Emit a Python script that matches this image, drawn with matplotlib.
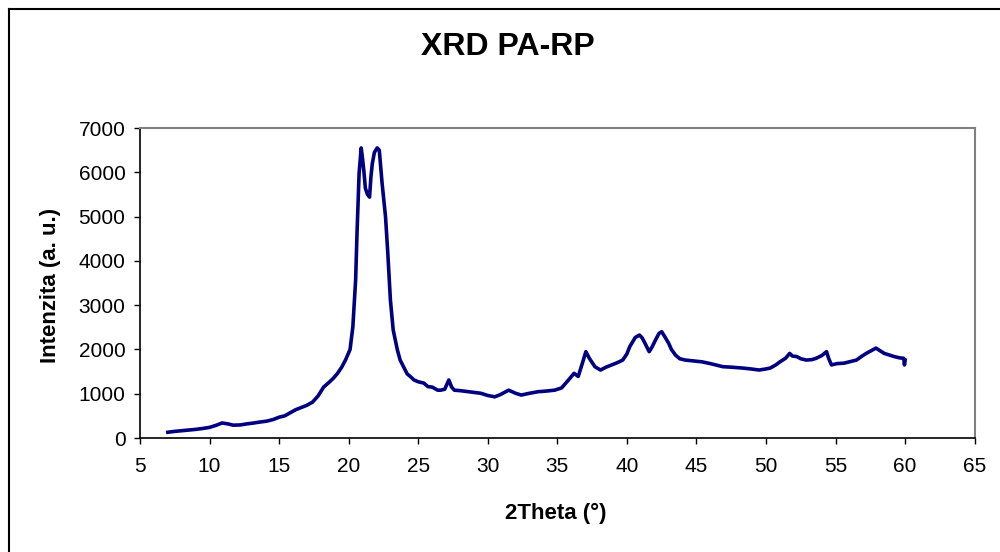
import numpy as np
import matplotlib
matplotlib.use('Agg')
from matplotlib import pyplot as plt
from matplotlib.lines import Line2D

# 2Theta (deg) and intensity (a. u.)
two_theta = [7.0, 7.5, 8.0, 8.5, 9.0, 9.5, 10.0, 10.5, 10.9, 11.3, 11.7, 12.2, 12.7, 13.2,
             13.6, 14.1, 14.6, 15.0, 15.4, 15.8, 16.2, 16.6, 17.0, 17.4, 17.8, 18.2, 18.6,
             18.9, 19.2, 19.5, 19.8, 20.1, 20.3, 20.5, 20.6, 20.7, 20.75, 20.9, 21.0, 21.1,
             21.2, 21.35, 21.5, 21.6, 21.7, 21.85, 22.05, 22.2, 22.4, 22.65, 22.8, 23.0,
             23.2, 23.5, 23.7, 23.96, 24.2, 24.46, 24.7, 25.0, 25.4, 25.7, 26.0, 26.4, 26.6,
             26.9, 27.2, 27.4, 27.6, 28.0, 28.6, 29.0, 29.5, 30.0, 30.5, 30.9, 31.5, 32.0,
             32.4, 33.0, 33.6, 34.2, 34.8, 35.3, 35.8, 36.2, 36.5, 36.8, 37.05, 37.3, 37.7,
             38.1, 38.5, 38.9, 39.3, 39.7, 40.0, 40.2, 40.6, 40.9, 41.1, 41.3, 41.6, 41.8,
             42.05, 42.3, 42.5, 42.7, 43.0, 43.2, 43.5, 43.8, 44.2, 44.8, 45.4, 46.0, 46.5,
             46.9, 47.5, 48.3, 48.9, 49.5, 50.0, 50.3, 50.7, 51.0, 51.4, 51.7, 51.9, 52.2,
             52.5, 52.9, 53.3, 53.6, 54.0, 54.35, 54.5, 54.7, 55.1, 55.6, 56.0, 56.5, 56.9,
             57.2, 57.6, 57.9, 58.2, 58.5, 58.8, 59.2, 59.6, 59.9, 59.95, 60.0]
intensity = [130, 150, 165, 180, 195, 215, 240, 290, 340, 320, 290, 295, 320, 340,
             360, 380, 420, 470, 500, 570, 640, 690, 740, 810, 950, 1150, 1260,
             1350, 1460, 1600, 1780, 2000, 2510, 3570, 4630, 5500, 5980, 6550, 6300, 6000,
             5640, 5500, 5440, 5900, 6200, 6450, 6550, 6500, 5760, 4990, 4240, 3116,
             2440, 1990, 1760, 1600, 1450, 1380, 1310, 1270, 1240, 1160, 1150, 1080, 1080,
             1100, 1310, 1150, 1080, 1070, 1045, 1030, 1010, 960, 930, 980, 1080, 1010,
             970, 1010, 1045, 1060, 1080, 1130, 1310, 1460, 1390, 1690, 1950, 1800, 1610,
             1535, 1600, 1650, 1700, 1760, 1900, 2060, 2270, 2325, 2260, 2140, 1950, 2050,
             2210, 2360, 2400, 2300, 2140, 2000, 1870, 1790, 1760, 1740, 1720, 1680, 1640,
             1610, 1600, 1580, 1560, 1535, 1560, 1580, 1650, 1720, 1800, 1910, 1850, 1840,
             1790, 1760, 1770, 1800, 1860, 1950, 1800, 1650, 1680, 1690, 1720, 1760, 1850,
             1910, 1980, 2030, 1970, 1910, 1880, 1840, 1810, 1800, 1650, 1760]

x_ticks = [5, 10, 15, 20, 25, 30, 35, 40, 45, 50, 55, 60, 65]
y_ticks = [0, 1000, 2000, 3000, 4000, 5000, 6000, 7000]

plt.rcParams['font.family'] = ['Liberation Sans', 'DejaVu Sans']

fig = plt.figure(figsize=(10, 5.52), dpi=100)
ax = fig.add_axes([0.140, 0.2065, 0.8347, 0.5616])

ax.plot(two_theta, intensity, color='#000080', lw=2.6)

ax.set_xlim(5, 65)
ax.set_ylim(0, 7000)
ax.set_xticks(x_ticks)
ax.set_yticks(y_ticks)
ax.tick_params(direction='out', length=4.5, width=1, labelsize=15, colors='black')
ax.tick_params(axis='x', pad=9)
ax.tick_params(axis='y', pad=6)

for s in ['left', 'bottom']:
    ax.spines[s].set_color('black')
    ax.spines[s].set_linewidth(1.2)
for s in ['top', 'right']:
    ax.spines[s].set_color('#808080')
    ax.spines[s].set_linewidth(1.5)

# titles
fig.text(0.508, 0.915, 'XRD PA-RP', ha='center', va='center', fontsize=23, fontweight='bold')
fig.text(0.051, 0.4837, 'Intenzita (a. u.)', ha='center', va='center', rotation=90,
         fontsize=16, fontweight='bold')
fig.text(0.556, 0.069, '2Theta (°)', ha='center', va='center', fontsize=16, fontweight='bold')

# chart frame (left and top edges visible)
fig.add_artist(Line2D([0.0085, 0.0085], [0, 1 - 8.5 / 552], color='black', lw=1.5))
fig.add_artist(Line2D([0.0085, 1.0], [1 - 8.5 / 552, 1 - 8.5 / 552], color='black', lw=1.5))

fig.savefig('out.png', dpi=100)
